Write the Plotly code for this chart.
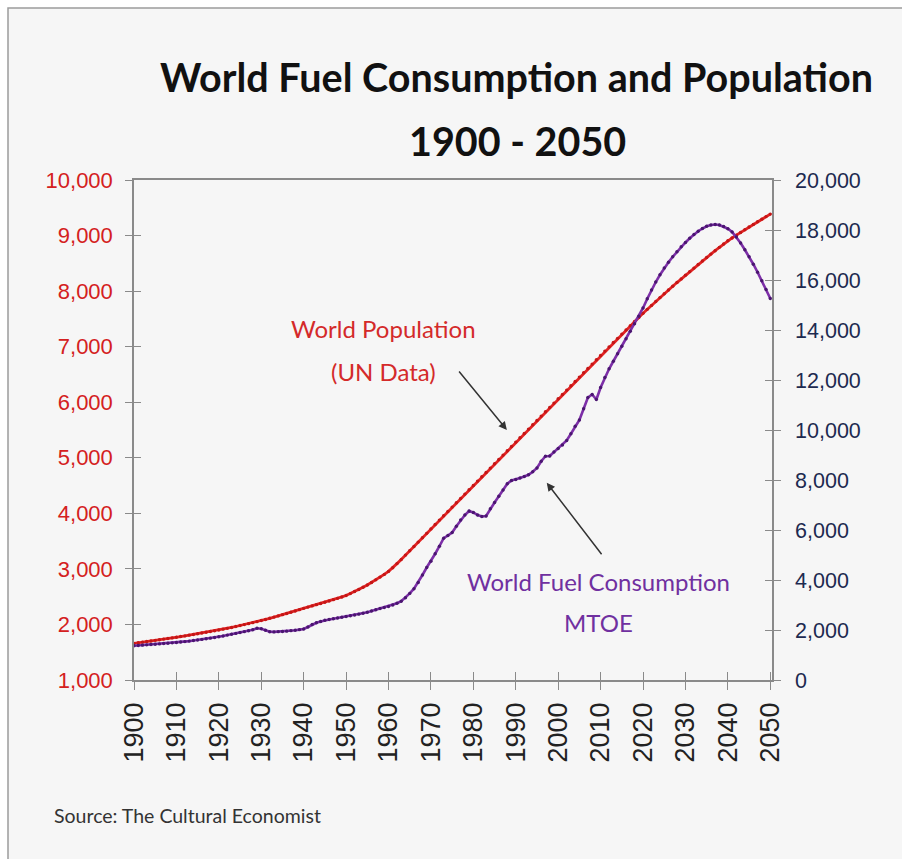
import plotly.graph_objects as go

# ---- data -------------------------------------------------------------
years = list(range(1900, 2051))

# World population, millions (left axis)
population = [
    1660, 1670, 1681, 1692, 1703, 1714, 1725, 1736, 1747, 1758,
    1770, 1782, 1794, 1807, 1820, 1833, 1846, 1859, 1872, 1886,
    1900, 1915, 1930, 1946, 1963, 1980, 1997, 2014, 2032, 2050,
    2070, 2090, 2111, 2132, 2154, 2176, 2198, 2220, 2243, 2266,
    2290, 2312, 2334, 2356, 2378, 2400, 2423, 2446, 2470, 2495,
    2520, 2555, 2592, 2630, 2670, 2711, 2756, 2803, 2852, 2901,
    2955, 3020, 3095, 3170, 3248, 3326, 3404, 3482, 3560, 3640,
    3720, 3800, 3878, 3956, 4034, 4112, 4190, 4268, 4346, 4424,
    4502, 4580, 4658, 4736, 4814, 4892, 4970, 5048, 5126, 5204,
    5282, 5360, 5438, 5516, 5594, 5672, 5750, 5828, 5906, 5984,
    6062, 6140, 6218, 6296, 6374, 6452, 6530, 6608, 6686, 6764,
    6842, 6920, 6997, 7074, 7150, 7226, 7302, 7377, 7452, 7526,
    7600, 7672, 7743, 7813, 7883, 7952, 8020, 8087, 8154, 8220,
    8285, 8350, 8414, 8478, 8541, 8604, 8666, 8727, 8788, 8848,
    8907, 8957, 9007, 9056, 9105, 9153, 9201, 9248, 9295, 9341,
    9386,
]

# World fuel consumption, MTOE (right axis)
fuel_mtoe = [
    1370, 1382, 1394, 1406, 1418, 1430, 1444, 1458, 1472, 1486,
    1500, 1518, 1536, 1556, 1578, 1600, 1624, 1650, 1675, 1702,
    1730, 1762, 1796, 1830, 1865, 1900, 1935, 1970, 2010, 2070,
    2050, 1990, 1930, 1925, 1935, 1940, 1955, 1975, 1990, 2015,
    2040, 2120, 2220, 2290, 2340, 2390, 2420, 2450, 2480, 2510,
    2540, 2570, 2600, 2635, 2670, 2710, 2760, 2810, 2860, 2900,
    2940, 3000, 3070, 3150, 3290, 3465, 3650, 3900, 4200, 4500,
    4750, 5050, 5350, 5670, 5780, 5900, 6150, 6400, 6600, 6760,
    6700, 6600, 6540, 6560, 6850, 7100, 7350, 7600, 7850, 7980,
    8020, 8080, 8140, 8210, 8330, 8480, 8750, 8950, 8960, 9120,
    9260, 9400, 9580, 9850, 10150, 10400, 10850, 11300, 11420, 11220,
    11700, 12100, 12450, 12750, 13050, 13350, 13650, 13950, 14250, 14550,
    14880, 15250, 15600, 15920, 16210, 16480, 16710, 16930, 17130, 17330,
    17500, 17670, 17820, 17950, 18060, 18150, 18200, 18220, 18200, 18140,
    18050, 17920, 17720, 17480, 17210, 16930, 16630, 16310, 15970, 15620,
    15260,
]

x_ticks = list(range(1900, 2051, 10))
x_tick_labels = [str(y) for y in x_ticks]
left_ticks = list(range(1000, 10001, 1000))
right_ticks = list(range(0, 20001, 2000))

# ---- styling ----------------------------------------------------------
RED = "#e32424"
RED_DOT = "#c41616"
PURPLE = "#7d2fa8"
PURPLE_DOT = "#4a1670"
NAVY = "#1d2a50"
AXIS = "#8a8a8a"
TICK_FONT = "Liberation Sans, Arial, sans-serif"
TEXT_FONT = "Lato, Open Sans, sans-serif"

W, H = 902, 859
ML, MR, MT, MB = 134, 130, 180, 179
PW, PH = W - ML - MR, H - MT - MB


def px_x(px):
    return (px - ML) / PW


def px_y(py):
    return (H - MB - py) / PH


fig = go.Figure()

fig.add_trace(go.Scatter(
    x=years, y=population, mode="lines+markers", name="World Population",
    line=dict(color=RED, width=2.8),
    marker=dict(color=RED_DOT, size=3.4),
    xaxis="x", yaxis="y", showlegend=False,
))
fig.add_trace(go.Scatter(
    x=years, y=fuel_mtoe, mode="lines+markers", name="World Fuel Consumption",
    line=dict(color=PURPLE, width=2.6),
    marker=dict(color=PURPLE_DOT, size=3.4),
    xaxis="x", yaxis="y2", showlegend=False,
))
# empty traces so the inner halves of the cross ticks get drawn
fig.add_trace(go.Scatter(x=[], y=[], xaxis="x2", yaxis="y3", showlegend=False))
fig.add_trace(go.Scatter(x=[], y=[], xaxis="x2", yaxis="y4", showlegend=False))

x_range = [1900, 2050.4]

fig.update_layout(
    width=W, height=H,
    margin=dict(l=ML, r=MR, t=MT, b=MB, pad=0),
    paper_bgcolor="white",
    plot_bgcolor="rgba(0,0,0,0)",
    showlegend=False,
    xaxis=dict(
        range=x_range, tickmode="array", tickvals=x_ticks, ticktext=x_tick_labels,
        tickangle=-90, ticks="outside", ticklen=8, tickwidth=1.3, tickcolor=AXIS,
        ticklabelstandoff=2,
        tickfont=dict(family=TICK_FONT, size=27, color="#222222"),
        showline=True, linecolor=AXIS, linewidth=1.5, mirror=True,
        showgrid=False, zeroline=False,
    ),
    xaxis2=dict(
        range=x_range, overlaying="x", anchor="y", side="bottom",
        tickmode="array", tickvals=x_ticks, ticks="inside", ticklen=8,
        tickwidth=1.3, tickcolor=AXIS, showticklabels=False,
        showline=False, showgrid=False, zeroline=False,
    ),
    yaxis=dict(
        range=[1000, 10000], tickmode="array", tickvals=left_ticks,
        tickformat=",", ticks="outside", ticklen=7, tickwidth=1.3, tickcolor=AXIS,
        ticklabelstandoff=8,
        tickfont=dict(family=TICK_FONT, size=22, color="#d42020"),
        showline=True, linecolor=AXIS, linewidth=1.5,
        showgrid=False, zeroline=False,
    ),
    yaxis2=dict(
        range=[0, 20000], overlaying="y", side="right", anchor="x",
        tickmode="array", tickvals=right_ticks, tickformat=",",
        ticks="outside", ticklen=7, tickwidth=1.3, tickcolor=AXIS,
        ticklabelstandoff=10,
        tickfont=dict(family=TICK_FONT, size=21.5, color=NAVY),
        showline=True, linecolor=AXIS, linewidth=1.5,
        showgrid=False, zeroline=False,
    ),
    yaxis3=dict(
        range=[1000, 10000], overlaying="y", side="left", anchor="x2",
        tickmode="array", tickvals=left_ticks, ticks="inside", ticklen=7,
        tickwidth=1.3, tickcolor=AXIS, showticklabels=False,
        showline=False, showgrid=False, zeroline=False,
    ),
    yaxis4=dict(
        range=[0, 20000], overlaying="y", side="right", anchor="x2",
        tickmode="array", tickvals=right_ticks, ticks="inside", ticklen=7,
        tickwidth=1.3, tickcolor=AXIS, showticklabels=False,
        showline=False, showgrid=False, zeroline=False,
    ),
)

# light panel with a grey frame behind the whole chart
fig.add_shape(
    type="rect", xref="paper", yref="paper", layer="below",
    x0=px_x(8), x1=px_x(W + 40), y0=px_y(H + 40), y1=px_y(8),
    fillcolor="#f6f6f6", line=dict(color="#9c9c9c", width=1.5),
)

# title
title_font = dict(family=TEXT_FONT, size=39.5, color="#111111")
fig.add_annotation(
    text="<b>World Fuel Consumption and Population</b>",
    xref="paper", yref="paper", x=px_x(516), y=px_y(76),
    xanchor="center", yanchor="middle", showarrow=False, font=title_font,
)
fig.add_annotation(
    text="<b>1900 - 2050</b>",
    xref="paper", yref="paper", x=px_x(517), y=px_y(141),
    xanchor="center", yanchor="middle", showarrow=False, font=title_font,
)

# series labels
label_red = dict(family=TEXT_FONT, size=24, color="#d42a2a")
label_purple = dict(family=TEXT_FONT, size=24, color="#7030a0")
fig.add_annotation(text="World Population", xref="x", yref="y",
                   x=1958.7, y=7336, showarrow=False, font=label_red)
fig.add_annotation(text="(UN Data)", xref="x", yref="y",
                   x=1958.7, y=6560, showarrow=False, font=label_red)
fig.add_annotation(text="World Fuel Consumption", xref="x", yref="y2",
                   x=2009.4, y=3960, showarrow=False, font=label_purple)
fig.add_annotation(text="MTOE", xref="x", yref="y2",
                   x=2009.4, y=2320, showarrow=False, font=label_purple)

# pointer arrows
fig.add_annotation(
    xref="x", yref="y", x=1987.9, y=5500, ax=-49, ay=-60,
    text="", showarrow=True, arrowhead=2, arrowsize=1.1, arrowwidth=1.5,
    arrowcolor="#333333",
)
fig.add_annotation(
    xref="x", yref="y2", x=1997.3, y=7890, ax=56, ay=73,
    text="", showarrow=True, arrowhead=2, arrowsize=1.1, arrowwidth=1.5,
    arrowcolor="#333333",
)

# source note
fig.add_annotation(
    text="Source: The Cultural Economist",
    xref="paper", yref="paper", x=px_x(52), y=px_y(815),
    xanchor="left", yanchor="middle", showarrow=False,
    font=dict(family=TEXT_FONT, size=19.5, color="#333333"),
)

fig.write_html("out.html")
